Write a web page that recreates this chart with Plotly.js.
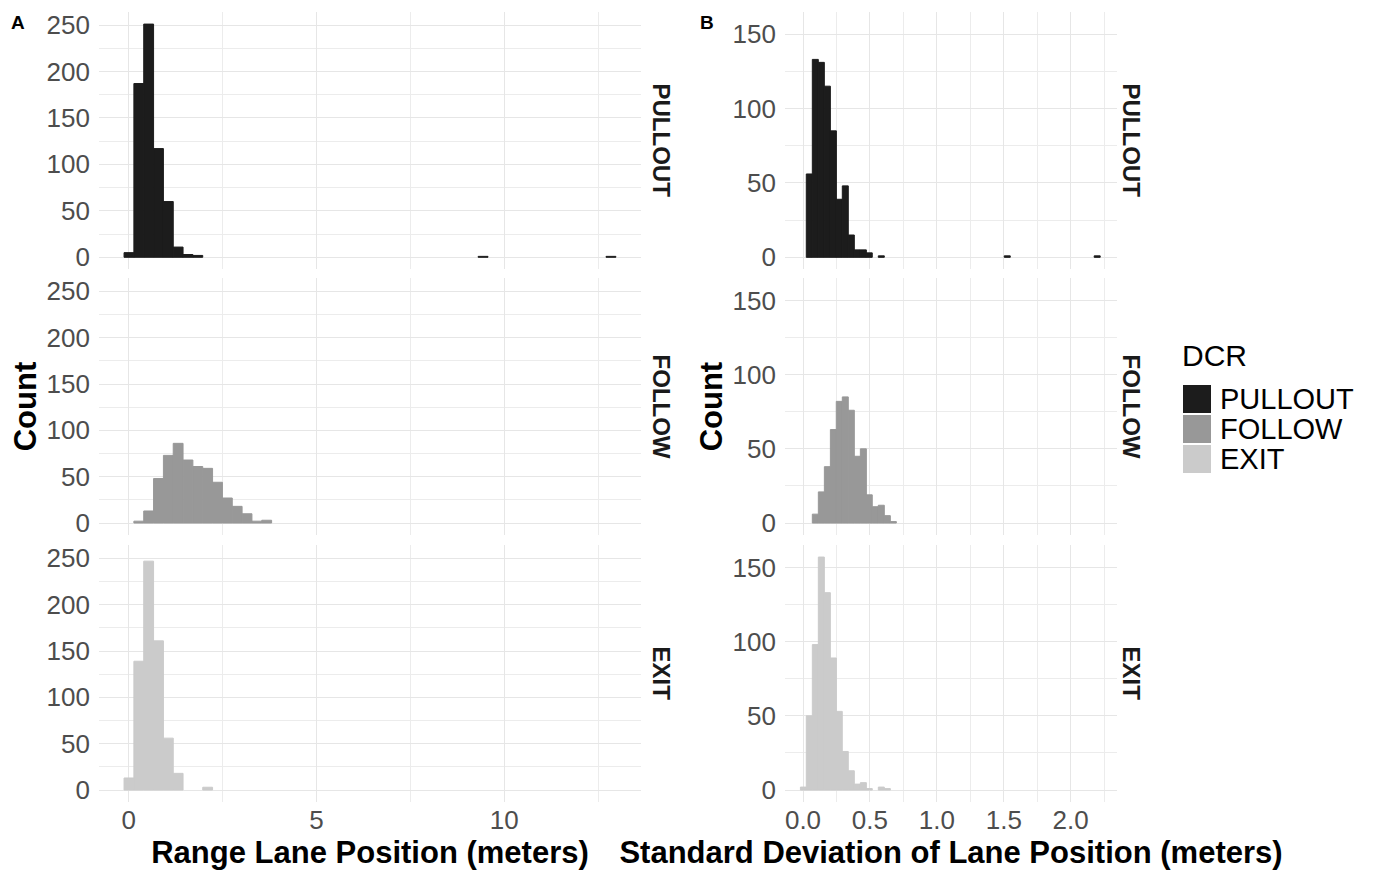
<!DOCTYPE html>
<html>
<head>
<meta charset="utf-8">
<script src="https://cdn.plot.ly/plotly-3.0.1.min.js"></script>
<style>
  html, body { margin: 0; padding: 0; background: #ffffff; }
  #chart { width: 1373px; height: 873px; }
</style>
</head>
<body>
<div id="chart"></div>
<script>
// ---------------- data ----------------
const groups = ["PULLOUT", "FOLLOW", "EXIT"];
const groupColors = ["#1c1c1c", "#989898", "#cbcbcb"];

// Panel A: range of lane position (meters), histogram bin centres and counts
const rangeBinCenters = [0.007, 0.269, 0.531, 0.793, 1.055, 1.316, 1.578, 1.840, 2.102, 2.364, 2.626, 2.888, 3.150, 3.412, 3.674, 9.435, 12.84];
const rangePullout    = [5, 187, 251, 117, 60, 11, 3, 2, 0, 0, 0, 0, 0, 0, 0, 1, 1];
const rangeFollow     = [0, 2, 13, 48, 73, 86, 68, 61, 59, 44, 27, 18, 10, 2, 3, 0, 0];
const rangeExit       = [13, 139, 247, 161, 56, 18, 0, 0, 3, 0, 0, 0, 0, 0, 0, 0, 0];
const rangeBinWidth = 0.2619;

// Panel B: standard deviation of lane position (meters)
const sdBinCenters = [0.003, 0.047, 0.092, 0.137, 0.182, 0.227, 0.271, 0.316, 0.361, 0.406, 0.451, 0.495, 0.540, 0.585, 0.630, 0.675, 1.526, 2.198];
const sdPullout    = [0, 56, 133, 131, 115, 85, 39, 48, 15, 5, 5, 3, 0, 1, 0, 0, 1, 1];
const sdFollow     = [0, 0, 6, 21, 38, 63, 82, 85, 76, 45, 50, 19, 11, 12, 5, 1, 0, 0];
const sdExit       = [2, 50, 98, 157, 133, 89, 53, 26, 13, 4, 5, 1, 0, 2, 1, 0, 0, 0];
const sdBinWidth = 0.0448;

const rangeTicks = [0, 5, 10];
const sdTicks = [0, 0.5, 1.0, 1.5, 2.0];
const countTicksA = [0, 50, 100, 150, 200, 250];
const countTicksB = [0, 50, 100, 150];

const xTitleA = "Range Lane Position (meters)";
const xTitleB = "Standard Deviation of Lane Position (meters)";
const yTitle = "Count";
const legendTitle = "DCR";
const panelLabels = ["A", "B"];

// ---------------- layout helpers ----------------
const W = 1373, H = 873;
const FONT = "Liberation Sans, Arial, Helvetica, sans-serif";
const px2x = p => p / W;
const px2y = p => 1 - p / H;

const colDomains = [[px2x(99), px2x(641)], [px2x(785), px2x(1117)]];
const rowDomains = [
  [px2y(269), px2y(12)],
  [px2y(534.7), px2y(278.4)],
  [px2y(801.7), px2y(545.4)]
];

const rangeSeries = [rangePullout, rangeFollow, rangeExit];
const sdSeries = [sdPullout, sdFollow, sdExit];

// keep only non-empty bins (empty bins draw nothing, as in the original)
function nonEmpty(centers, counts) {
  const xs = [], ys = [];
  counts.forEach((v, i) => { if (v > 0) { xs.push(centers[i]); ys.push(v); } });
  return { xs, ys };
}

const traces = [];
const layout = {
  width: W, height: H,
  margin: { l: 0, r: 0, t: 0, b: 0, pad: 0 },
  paper_bgcolor: "#ffffff",
  plot_bgcolor: "#ffffff",
  showlegend: false,
  barmode: "overlay",
  font: { family: FONT, color: "#4d4d4d", size: 26 },
  annotations: [],
  shapes: []
};

const gridMajor = "#e6e6e6";
const gridMinor = "#ececec";

let axisIdx = 0;
for (let r = 0; r < 3; r++) {
  for (let c = 0; c < 2; c++) {
    axisIdx++;
    const xName = axisIdx === 1 ? "xaxis" : "xaxis" + axisIdx;
    const yName = axisIdx === 1 ? "yaxis" : "yaxis" + axisIdx;
    const xRef = axisIdx === 1 ? "x" : "x" + axisIdx;
    const yRef = axisIdx === 1 ? "y" : "y" + axisIdx;
    const isA = c === 0;
    const bottom = r === 2;

    const d = isA ? nonEmpty(rangeBinCenters, rangeSeries[r]) : nonEmpty(sdBinCenters, sdSeries[r]);
    traces.push({
      type: "bar",
      name: groups[r],
      x: d.xs,
      y: d.ys,
      width: isA ? rangeBinWidth : sdBinWidth,
      marker: { color: groupColors[r], line: { width: 1, color: groupColors[r] } },
      xaxis: xRef, yaxis: yRef,
      hovertemplate: groups[r] + ": %{x}<br>Count: %{y}<extra></extra>"
    });

    layout[xName] = {
      domain: colDomains[c],
      anchor: yRef,
      range: isA ? [-0.791, 13.64] : [-0.1345, 2.346],
      tickmode: "array",
      tickvals: isA ? rangeTicks : sdTicks,
      ticktext: isA ? rangeTicks.map(v => String(v)) : sdTicks.map(v => v.toFixed(1)),
      showticklabels: bottom,
      ticks: "",
      ticklabelstandoff: 0,
      tickfont: { family: FONT, size: 26, color: "#4d4d4d" },
      showgrid: true, gridcolor: gridMajor, gridwidth: 1.4,
      minor: { dtick: isA ? 2.5 : 0.25, tick0: 0, showgrid: true, gridcolor: gridMinor, gridwidth: 1, ticks: "" },
      zeroline: false, showline: false,
      automargin: false, fixedrange: true
    };
    if (bottom) {
      layout[xName].title = {
        text: isA ? xTitleA : xTitleB,
        font: { family: FONT, size: 31, color: "#000000", weight: "bold" },
        standoff: 6
      };
    }

    layout[yName] = {
      domain: rowDomains[r],
      anchor: xRef,
      range: isA ? [-12.6, 264.0] : [-7.85, 164.85],
      tickmode: "array",
      tickvals: isA ? countTicksA : countTicksB,
      ticks: "",
      ticklabelstandoff: 8,
      tickfont: { family: FONT, size: 26, color: "#4d4d4d" },
      showgrid: true, gridcolor: gridMajor, gridwidth: 1.4,
      minor: { dtick: 25, tick0: 0, showgrid: true, gridcolor: gridMinor, gridwidth: 1, ticks: "" },
      zeroline: false, showline: false,
      automargin: false, fixedrange: true
    };
    if (r === 1) {
      layout[yName].title = {
        text: yTitle,
        font: { family: FONT, size: 31, color: "#000000", weight: "bold" },
        standoff: 0
      };
    }

    // facet strip label on the right of each panel
    layout.annotations.push({
      xref: "paper", yref: "paper",
      x: px2x(isA ? 661 : 1131),
      y: (rowDomains[r][0] + rowDomains[r][1]) / 2,
      text: groups[r],
      textangle: 90,
      showarrow: false,
      xanchor: "center", yanchor: "middle",
      font: { family: FONT, size: 24, color: "#1a1a1a", weight: "bold" }
    });
  }
}

// panel tags A / B
[[18, 22], [707, 22]].forEach((p, i) => {
  layout.annotations.push({
    xref: "paper", yref: "paper",
    x: px2x(p[0]), y: px2y(p[1]),
    text: panelLabels[i], showarrow: false,
    xanchor: "center", yanchor: "middle",
    font: { family: FONT, size: 19, color: "#000000", weight: "bold" }
  });
});

// legend (drawn as keys + labels, ggplot style)
layout.annotations.push({
  xref: "paper", yref: "paper",
  x: px2x(1180), y: px2y(355),
  text: legendTitle, showarrow: false,
  xanchor: "left", yanchor: "middle",
  font: { family: FONT, size: 30, color: "#000000" }
});
groups.forEach((g, i) => {
  const cy = 399 + i * 30;
  layout.shapes.push({
    type: "rect", xref: "paper", yref: "paper",
    x0: px2x(1183), x1: px2x(1211),
    y0: px2y(cy + 14), y1: px2y(cy - 14),
    fillcolor: groupColors[i], line: { width: 0 }
  });
  layout.annotations.push({
    xref: "paper", yref: "paper",
    x: px2x(1218), y: px2y(cy),
    text: g, showarrow: false,
    xanchor: "left", yanchor: "middle",
    font: { family: FONT, size: 29, color: "#000000" }
  });
});

Plotly.newPlot("chart", traces, layout, { displayModeBar: false, staticPlot: false });
</script>
</body>
</html>
